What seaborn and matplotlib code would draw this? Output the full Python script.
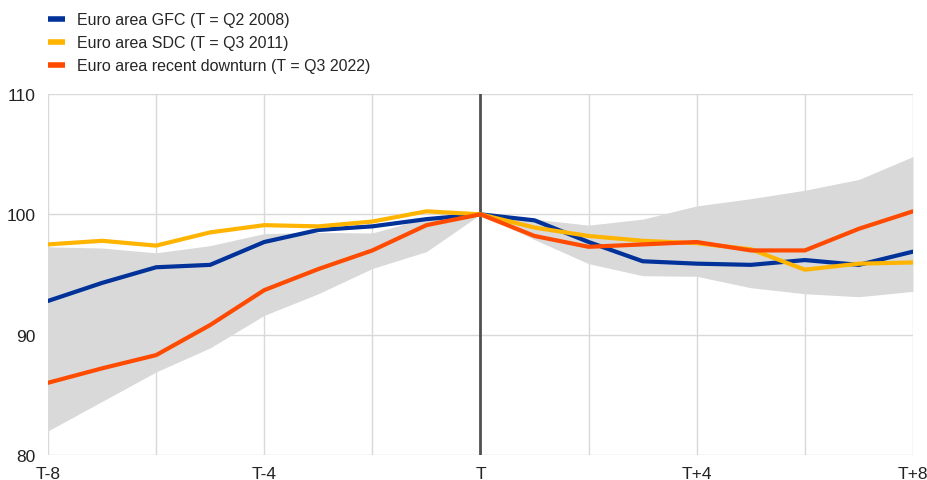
import numpy as np
import pandas as pd
import matplotlib
matplotlib.use('Agg')
import matplotlib.pyplot as plt
import seaborn as sns

# quarters relative to T
periods = list(range(-8, 9))
tick_labels = ['T-8', '', 'T-4', '', 'T', '', 'T+4', '', 'T+8']

gfc = [92.8, 94.3, 95.6, 95.8, 97.7, 98.7, 99.0, 99.6, 100.0,
       99.5, 97.7, 96.1, 95.9, 95.8, 96.2, 95.8, 96.9]
sdc = [97.5, 97.8, 97.4, 98.5, 99.1, 99.0, 99.4, 100.25, 100.0,
       98.9, 98.2, 97.8, 97.6, 97.1, 95.4, 95.9, 96.0]
recent = [86.0, 87.2, 88.3, 90.8, 93.7, 95.45, 97.0, 99.1, 100.0,
          98.2, 97.3, 97.5, 97.7, 97.0, 97.0, 98.8, 100.25]

# grey range
band_low = [82.0, 84.45, 86.9, 88.9, 91.6, 93.4, 95.5, 96.9, 100.0,
            97.9, 95.9, 94.9, 94.85, 93.9, 93.4, 93.15, 93.6]
band_high = [97.3, 97.2, 96.8, 97.4, 98.4, 98.5, 98.45, 99.7, 100.0,
             99.6, 99.1, 99.6, 100.7, 101.3, 102.0, 102.9, 104.8]

labels = ['Euro area GFC (T = Q2 2008)',
          'Euro area SDC (T = Q3 2011)',
          'Euro area recent downturn (T = Q3 2022)']
colors = ['#003299', '#ffb400', '#ff4b00']

df = pd.DataFrame({
    'period': periods * 3,
    'value': gfc + sdc + recent,
    'series': [labels[0]] * 17 + [labels[1]] * 17 + [labels[2]] * 17,
})

sns.set_theme(style='white')
plt.rcParams['font.family'] = ['Liberation Sans', 'DejaVu Sans']

fig = plt.figure(figsize=(9.28, 4.81), dpi=100)
ax = fig.add_axes([0.0517, 0.052, 0.9321, 0.7505])

ax.fill_between(periods, band_low, band_high, color='#d9d9d9', lw=0, zorder=1)
ax.axvline(0, color='#505050', lw=2, zorder=2)
sns.lineplot(ax=ax, data=df, x='period', y='value', hue='series',
             palette=colors, lw=3.0, zorder=3, legend=False)

ax.set_xlim(-8, 8)
ax.set_ylim(80, 110)
ax.set_xticks(range(-8, 9, 2))
ax.set_xticklabels(tick_labels)
ax.set_yticks([80, 90, 100, 110])
ax.grid(True, color='#d9d9d9', lw=1)
ax.set_axisbelow(True)
for s in ax.spines.values():
    s.set_visible(False)
ax.tick_params(axis='both', length=0, labelsize=12.5, colors='#222222')
ax.tick_params(axis='y', pad=9)
ax.tick_params(axis='x', pad=8)
ax.set_xlabel('')
ax.set_ylabel('')

# legend
handles = [plt.Line2D([0], [0], color=c, lw=4, solid_capstyle='butt') for c in colors]
fig.legend(handles, labels, loc='upper left', bbox_to_anchor=(0.0517, 0.972),
           frameon=False, fontsize=11.5, handlelength=1.05, handletextpad=0.75,
           labelspacing=0.5, borderaxespad=0, borderpad=0)

fig.savefig('out.png', dpi=100)
